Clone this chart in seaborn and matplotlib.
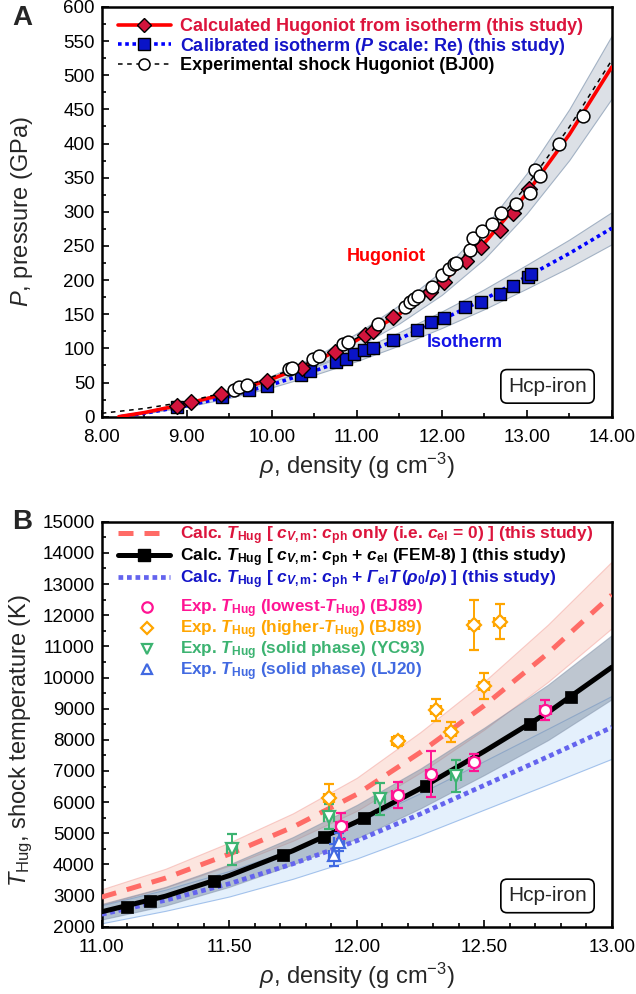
import matplotlib
matplotlib.use("Agg")
import matplotlib.pyplot as plt
import seaborn as sns
from matplotlib.lines import Line2D
from matplotlib.ticker import MultipleLocator, FormatStrFormatter

sns.set_theme(style="ticks")
plt.rcParams['font.family'] = ['Liberation Sans', 'DejaVu Sans']
plt.rcParams['mathtext.fontset'] = 'custom'
plt.rcParams['mathtext.rm'] = 'Liberation Sans'
plt.rcParams['mathtext.it'] = 'Liberation Sans:italic'
plt.rcParams['mathtext.bf'] = 'Liberation Sans:bold'
try:
    plt.rcParams['mathtext.bfit'] = 'Liberation Sans:italic:bold'
except Exception:
    pass

# ---------------- Panel A data ----------------
hug_line_rho = [8.2, 8.5, 9.0, 9.5, 10.0, 10.5, 11.0, 11.5, 12.0, 12.5, 13.0, 13.5, 14.0]
hug_line_P = [0, 6, 19, 35, 55, 80, 112, 150, 196, 254, 327, 413, 512]
hug_band_lo = [0, 5.5, 17.3, 31.9, 50, 72.8, 102, 136.5, 178.4, 231, 297.6, 375.8, 466]
hug_band_hi = [0, 6.5, 20.7, 38.2, 60, 87.2, 122, 163.5, 213.6, 277, 356.4, 450.2, 558]

iso_line_rho = [8.22, 8.5, 9.0, 9.5, 10.0, 10.5, 11.0, 11.5, 12.0, 12.5, 13.0, 13.5, 14.0]
iso_line_P = [0, 5, 16, 30, 47, 67, 89, 114, 142, 172, 205, 239, 276]
iso_band_lo = [0, 4.6, 14.6, 27.5, 43, 61.3, 81.4, 104.3, 129.9, 157.4, 187.6, 218.7, 252.5]
iso_band_hi = [0, 5.4, 17.4, 32.6, 51, 72.7, 96.6, 123.7, 154.1, 186.6, 222.4, 259.3, 299.5]

exp_line_rho = [8.0, 8.5, 9.0, 9.5, 10.0, 10.5, 11.0, 11.5, 12.0, 12.5, 13.0, 13.5, 14.0]
exp_line_P = [5, 12, 22, 37, 58, 83, 115, 155, 205, 265, 338, 424, 522]

hug_pts_rho = [8.88, 9.05, 9.40, 9.94, 10.35, 10.74, 11.10, 11.19, 11.43, 11.86, 12.03, 12.29, 12.46, 12.69, 12.84, 13.03]
hug_pts_P = [16, 22, 33, 52, 71, 95, 120, 125, 146, 183, 197, 228, 248, 274, 299, 333]

iso_pts_rho = [8.88, 9.41, 9.73, 9.94, 10.34, 10.45, 10.75, 10.87, 10.97, 11.09, 11.19, 11.43, 11.71, 11.87, 12.03, 12.27, 12.46, 12.68, 12.84, 13.01, 13.05]
iso_pts_P = [14, 29, 39, 45, 61, 67, 80, 84, 92, 97, 101, 112, 127, 139, 145, 161, 168, 180, 191, 205, 209]

bj00_rho = [9.55, 9.61, 9.71, 10.20, 10.24, 10.48, 10.55, 10.84, 10.90, 11.25, 11.57, 11.63, 11.67, 11.72, 11.89,
            12.00, 12.08, 12.14, 12.17, 12.33, 12.37, 12.47, 12.59, 12.70, 12.87, 13.04, 13.10, 13.15, 13.38, 13.66]
bj00_P = [39, 43, 46, 70, 72, 85, 89, 106, 110, 135, 161, 168, 172, 176, 190,
          207, 217, 224, 225, 244, 262, 272, 282, 299, 312, 327, 361, 353, 399, 440]

# ---------------- Panel B data ----------------
grid_rho = [11.0, 11.25, 11.5, 11.75, 12.0, 12.25, 12.5, 12.75, 13.0]
T_ph = [2950, 3560, 4330, 5200, 6250, 7600, 9100, 10780, 12650]
T_ph_lo = [2700, 3260, 3960, 4760, 5720, 6950, 8330, 9860, 11580]
T_ph_hi = [3200, 3860, 4700, 5640, 6780, 8250, 9870, 11700, 13720]

T_fem = [2480, 2980, 3640, 4440, 5370, 6440, 7630, 8880, 10330]
T_fem_lo = [2230, 2680, 3280, 4000, 4830, 5800, 6870, 7990, 9300]
T_fem_hi = [2730, 3280, 4000, 4880, 5910, 7080, 8390, 9770, 11360]
fem_pts_rho = [11.10, 11.19, 11.44, 11.71, 11.87, 12.03, 12.27, 12.68, 12.84]
fem_pts_T = [2640, 2835, 3470, 4300, 4890, 5480, 6530, 8510, 9380]

T_gam = [2400, 2850, 3380, 4020, 4760, 5620, 6540, 7460, 8400]
T_gam_lo = [2110, 2510, 2970, 3540, 4190, 4950, 5760, 6570, 7390]
T_gam_hi = [2690, 3190, 3790, 4500, 5330, 6290, 7320, 8360, 9410]

bj89_low_rho = [11.94, 12.16, 12.29, 12.46, 12.74]
bj89_low_T = [5230, 6220, 6900, 7280, 8950]
bj89_low_err = [430, 410, 750, 270, 330]

bj89_high_rho = [11.89, 12.16, 12.31, 12.37, 12.50, 12.46, 12.56]
bj89_high_T = [6140, 7960, 8950, 8240, 9730, 11680, 11790]
bj89_high_err = [440, 150, 360, 320, 430, 800, 560]

yc93_rho = [11.51, 11.89, 12.09, 12.39]
yc93_T = [4480, 5530, 6100, 6840]
yc93_err = [500, 400, 510, 500]

lj20_rho = [11.91, 11.93]
lj20_T = [4300, 4720]
lj20_err = [340, 280]

rho_err = 0.02

# ---------------- Figure ----------------
fig = plt.figure(figsize=(6.36, 9.94), dpi=100)
axA = fig.add_axes([0.16, 0.5808, 0.8019, 0.4122])
axB = fig.add_axes([0.16, 0.0677, 0.8019, 0.4074])

band_face = '#dce0e6'
band_edge = '#a3b2c4'
LFS_A = 13
LFS_B = 12.5

# Panel A
axA.fill_between(hug_line_rho, hug_band_lo, hug_band_hi, color=band_face, edgecolor=band_edge, lw=0.8, zorder=1)
axA.fill_between(iso_line_rho, iso_band_lo, iso_band_hi, color=band_face, edgecolor=band_edge, lw=0.8, zorder=1)
sns.lineplot(x=iso_line_rho, y=iso_line_P, ax=axA, color='#0000ff', lw=2.6, linestyle=(0, (1, 1)),
             sort=False, estimator=None, legend=False, zorder=3)
sns.lineplot(x=hug_line_rho, y=hug_line_P, ax=axA, color='#ff0000', lw=2.6,
             sort=False, estimator=None, legend=False, zorder=3)
sns.lineplot(x=exp_line_rho, y=exp_line_P, ax=axA, color='black', lw=1.1, linestyle=(0, (3, 3)),
             sort=False, estimator=None, legend=False, zorder=4)
sns.scatterplot(x=iso_pts_rho, y=iso_pts_P, ax=axA, marker='s', s=70, color='#0a14c8',
                edgecolor='black', linewidth=1.0, zorder=5, legend=False)
sns.scatterplot(x=hug_pts_rho, y=hug_pts_P, ax=axA, marker='D', s=65, color='#d2143c',
                edgecolor='black', linewidth=1.0, zorder=6, legend=False)
sns.scatterplot(x=bj00_rho, y=bj00_P, ax=axA, marker='o', s=85, color='white',
                edgecolor='black', linewidth=1.1, zorder=7, legend=False)

axA.set_xlim(8, 14)
axA.set_ylim(0, 600)
axA.xaxis.set_major_locator(MultipleLocator(1))
axA.xaxis.set_minor_locator(MultipleLocator(0.5))
axA.yaxis.set_major_locator(MultipleLocator(50))
axA.yaxis.set_minor_locator(MultipleLocator(25))
axA.xaxis.set_major_formatter(FormatStrFormatter('%.2f'))
axA.set_xlabel(r'$\rho$, density (g cm$^{-3}$)', fontsize=17, labelpad=3)
axA.set_ylabel(r'$P$, pressure (GPa)', fontsize=17)

hA = [Line2D([], [], color='#ff0000', lw=2.6, marker='D', ms=7.5, mfc='#d2143c', mec='black', mew=1.0),
      Line2D([], [], color='#0000ff', lw=2.6, linestyle=(0, (1, 1)), marker='s', ms=8, mfc='#0a14c8', mec='black', mew=1.0),
      Line2D([], [], color='black', lw=1.1, linestyle=(0, (3, 3)), marker='o', ms=8, mfc='white', mec='black', mew=1.1)]
lA = ['Calculated Hugoniot from isotherm (this study)',
      r'Calibrated isotherm ($\mathbfit{P}$ scale: Re) (this study)',
      'Experimental shock Hugoniot (BJ00)']
legA = axA.legend(hA, lA, loc='upper left', bbox_to_anchor=(0.018, 0.99), frameon=False,
                  prop={'weight': 'bold', 'size': LFS_A}, handlelength=2.9, handletextpad=0.55,
                  labelspacing=0.02, borderaxespad=0.0, borderpad=0.4, numpoints=1,
                  labelcolor=['#dc143c', '#1414c8', 'black'])

axA.text(11.35, 234, 'Hugoniot', color='#ff0000', fontsize=13, fontweight='bold', ha='center', va='center')
axA.text(12.27, 108, 'Isotherm', color='#1414e6', fontsize=13, fontweight='bold', ha='center', va='center')
axA.text(0.874, 0.074, 'Hcp-iron', transform=axA.transAxes, fontsize=15, ha='center', va='center',
         bbox=dict(boxstyle='round,pad=0.35,rounding_size=0.3', fc='white', ec='black', lw=1.2), zorder=10)

# Panel B
axB.fill_between(grid_rho, T_ph_lo, T_ph_hi, color='#fbd0c6', alpha=0.55, edgecolor='#f4a6a0', lw=0.8, zorder=1)
axB.fill_between(grid_rho, T_gam_lo, T_gam_hi, color='#d3e6fa', alpha=0.6, edgecolor='#6f9fe0', lw=0.8, zorder=1)
axB.fill_between(grid_rho, T_fem_lo, T_fem_hi, color='#7e8fa3', alpha=0.5, edgecolor='#8090a8', lw=0.8, zorder=2)

sns.lineplot(x=grid_rho, y=T_ph, ax=axB, color='#ff6b66', lw=3.6, linestyle=(0, (3, 2.2)),
             sort=False, estimator=None, legend=False, zorder=3)
sns.lineplot(x=grid_rho, y=T_gam, ax=axB, color='#6464ee', lw=3.4, linestyle=(0, (1, 0.8)),
             sort=False, estimator=None, legend=False, zorder=3)
sns.lineplot(x=grid_rho, y=T_fem, ax=axB, color='black', lw=3.6,
             sort=False, estimator=None, legend=False, zorder=4)
sns.scatterplot(x=fem_pts_rho, y=fem_pts_T, ax=axB, marker='s', s=65, color='black',
                edgecolor='black', linewidth=0.5, zorder=5, legend=False)

def exp_points(rho, T, err, marker, col, ms=8):
    axB.errorbar(rho, T, yerr=err, xerr=rho_err, fmt=marker, ms=ms, mfc='white', mec=col, mew=1.6,
                 ecolor=col, elinewidth=1.4, capsize=3.5, capthick=1.4, zorder=8)

exp_points(bj89_high_rho, bj89_high_T, bj89_high_err, 'D', '#ffa500', ms=7)
exp_points(yc93_rho, yc93_T, yc93_err, 'v', '#3cb371')
exp_points(lj20_rho, lj20_T, lj20_err, '^', '#4169e1')
exp_points(bj89_low_rho, bj89_low_T, bj89_low_err, 'o', '#ff1493')

axB.set_xlim(11, 13)
axB.set_ylim(2000, 15000)
axB.xaxis.set_major_locator(MultipleLocator(0.5))
axB.xaxis.set_minor_locator(MultipleLocator(0.1))
axB.yaxis.set_major_locator(MultipleLocator(1000))
axB.yaxis.set_minor_locator(MultipleLocator(500))
axB.xaxis.set_major_formatter(FormatStrFormatter('%.2f'))
axB.set_xlabel(r'$\rho$, density (g cm$^{-3}$)', fontsize=17, labelpad=3)
axB.set_ylabel(r'$T_{\mathrm{Hug}}$, shock temperature (K)', fontsize=17)

TH = r'$\mathbfit{T}_{\mathbf{Hug}}$'
CV = r'$\mathbfit{c}_{\mathbfit{V}\mathbf{,m}}$'
CPH = r'$\mathbfit{c}_{\mathbf{ph}}$'
CEL = r'$\mathbfit{c}_{\mathbf{el}}$'
lB1 = ['Calc. ' + TH + ' [ ' + CV + ': ' + CPH + ' only (i.e. ' + CEL + ' = 0) ] (this study)',
       'Calc. ' + TH + ' [ ' + CV + ': ' + CPH + ' + ' + CEL + ' (FEM-8) ] (this study)',
       'Calc. ' + TH + ' [ ' + CV + ': ' + CPH + r' + $\mathbfit{\Gamma}_{\mathbf{el}}\mathbfit{T}\,\mathbf{(}\mathbfit{\rho}_{\mathbf{0}}\mathbf{/}\mathbfit{\rho}\mathbf{)}$ ] (this study)']
hB1 = [Line2D([], [], color='#ff6b66', lw=3.6, linestyle=(0, (3, 2.2))),
       Line2D([], [], color='black', lw=3.6, marker='s', ms=8),
       Line2D([], [], color='#6464ee', lw=3.4, linestyle=(0, (1, 0.8)))]
legB1 = axB.legend(hB1, lB1, loc='upper left', bbox_to_anchor=(0.018, 1.011), frameon=False,
                   prop={'weight': 'bold', 'size': LFS_B}, handlelength=3.0, handletextpad=0.57,
                   labelspacing=-0.03, borderaxespad=0.0, borderpad=0.4,
                   labelcolor=['#dc143c', 'black', '#1414c8'])
axB.add_artist(legB1)

lB2 = ['Exp. ' + TH + ' (lowest-' + TH + ') (BJ89)',
       'Exp. ' + TH + ' (higher-' + TH + ') (BJ89)',
       'Exp. ' + TH + ' (solid phase) (YC93)',
       'Exp. ' + TH + ' (solid phase) (LJ20)']
hB2 = [Line2D([], [], ls='none', marker='o', ms=7.5, mfc='white', mec='#ff1493', mew=1.6),
       Line2D([], [], ls='none', marker='D', ms=6.5, mfc='white', mec='#ffa500', mew=1.6),
       Line2D([], [], ls='none', marker='v', ms=7.5, mfc='white', mec='#3cb371', mew=1.6),
       Line2D([], [], ls='none', marker='^', ms=7.5, mfc='white', mec='#4169e1', mew=1.6)]
legB2 = axB.legend(hB2, lB2, loc='upper left', bbox_to_anchor=(0.058, 0.829), frameon=False,
                   prop={'weight': 'bold', 'size': 12.3}, handlelength=1.0, handletextpad=1.45,
                   labelspacing=-0.1, borderaxespad=0.0, borderpad=0.4, numpoints=1,
                   labelcolor=['#ff1493', '#ffa500', '#3cb371', '#4169e1'])

axB.text(0.874, 0.076, 'Hcp-iron', transform=axB.transAxes, fontsize=15, ha='center', va='center',
         bbox=dict(boxstyle='round,pad=0.35,rounding_size=0.3', fc='white', ec='black', lw=1.2), zorder=10)

for ax in (axA, axB):
    ax.tick_params(which='both', direction='in', top=False, right=False, labelsize=13.5, width=1.2, colors='black')
    ax.tick_params(which='major', length=5)
    ax.tick_params(which='minor', length=3)
    ax.tick_params(axis='x', which='both', pad=9)
    ax.tick_params(axis='y', which='both', pad=5)
    for sp in ax.spines.values():
        sp.set_linewidth(1.8)
        sp.set_color('black')
        sp.set_visible(True)
    ax.set_facecolor('white')
axA.yaxis.set_label_coords(-0.131, 0.5)
axB.yaxis.set_label_coords(-0.131, 0.46)

fig.text(22 / 636, 1 - 18 / 994, 'A', fontsize=20, fontweight='bold', ha='center', va='center')
fig.text(22 / 636, 1 - 522 / 994, 'B', fontsize=20, fontweight='bold', ha='center', va='center')

fig.savefig('out.png', dpi=100, facecolor='white')
